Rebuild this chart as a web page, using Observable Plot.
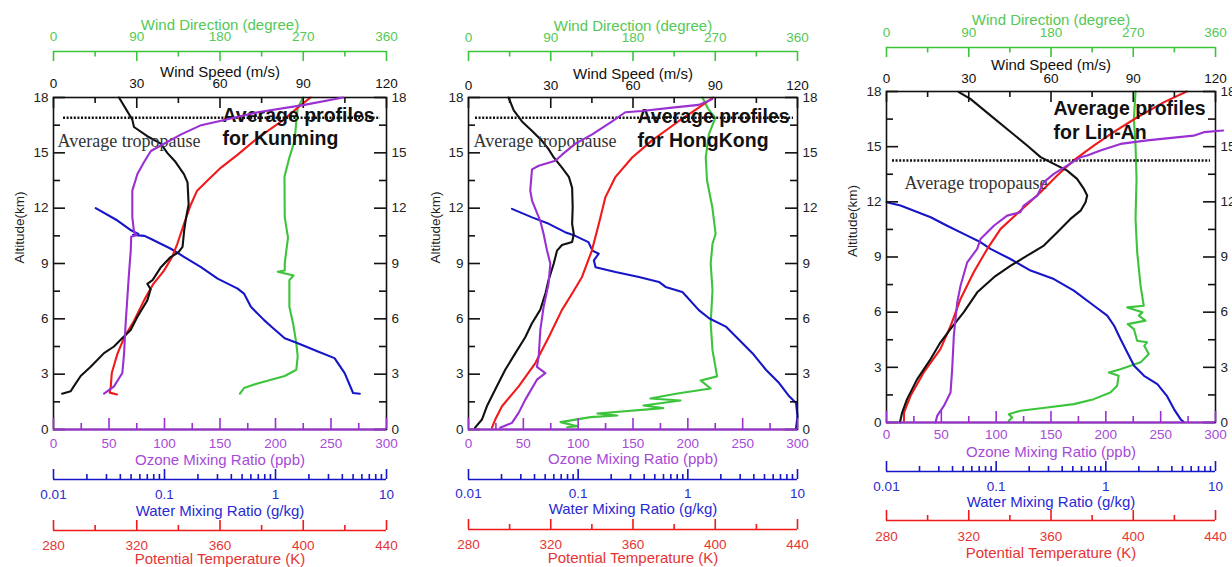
<!DOCTYPE html>
<html><head><meta charset="utf-8">
<script src="https://cdn.jsdelivr.net/npm/d3@7"></script>
<script src="https://cdn.jsdelivr.net/npm/@observablehq/plot@0.6"></script>
<style>
html,body{margin:0;padding:0;background:#fff;}
#root{position:relative;width:1232px;height:567px;overflow:hidden;background:#fff;}
</style>
</head><body><div id="root"></div>
<script>
// ---------------- DATA (altitude km, value) ----------------
const stations = ["Kunming", "HongKong", "Lin-An"];
const tropopause = [16.9, 16.9, 14.25];

// Kunming
const windSpeedKM = [[18,23.6],[16.8,28.4],[16.4,29],[15.9,33.8],[15.5,38.7],[15.0,41],[14.5,44],[13.85,47],[13.4,48.3],[12.2,48.7],[11.5,47.8],[10.8,47.1],[9.9,46.5],[9.6,45],[9.35,42.2],[8.8,38.7],[8.1,35.7],[7.9,33.8],[7.6,35],[7.0,33.8],[6.1,30.2],[5.4,27.8],[4.86,24.2],[4.5,21.8],[4.14,18.2],[3.4,13.4],[2.9,9.8],[2.34,7.3],[2.07,6.2],[1.94,3.1]];
const windDirKM = [[18,270],[17.45,264],[16.7,262.5],[15.65,260.6],[14.75,255],[13.7,249.7],[11.5,250],[10.4,253.5],[9.7,251.7],[9.0,250],[8.62,250],[8.55,242.5],[8.35,259.5],[8.1,255],[6.65,255],[5.75,259],[4.68,262.5],[3.96,264],[3.24,262.5],[2.9,250],[2.5,220.6],[2.25,206],[1.94,201.6]];
const ozoneKM = [[18,261],[17.6,226],[17.2,184],[16.7,148],[16.5,133],[16.0,115],[15.4,96.7],[15.1,87.7],[14.5,81.6],[13.85,75.6],[12.95,71],[11.5,71],[10.7,72.6],[10.55,75],[10.45,70],[9.7,69.6],[8.45,68],[7.2,66.6],[5.75,65],[4.14,63.6],[3.06,62],[2.34,54.5],[1.94,45.5]];
const waterKM = [[12.0,0.024],[11.33,0.0377],[10.8,0.05],[10.6,0.058],[10.55,0.052],[10.5,0.066],[10.34,0.075],[9.8,0.114],[9.35,0.151],[8.8,0.213],[8.18,0.301],[7.64,0.456],[7.37,0.52],[6.65,0.60],[5.93,0.79],[5.57,0.92],[4.95,1.21],[4.68,1.59],[4.23,2.41],[3.87,3.40],[3.06,4.2],[1.98,5.0],[1.94,5.75]];
const thetaKM = [[18,403.5],[17.6,399],[16.7,389.5],[15.8,378],[14.9,368.5],[14.2,360.5],[13.5,354],[12.95,349],[12.2,346],[11.15,342.7],[10.07,339.5],[9.35,337],[8.6,333],[7.9,328],[7.0,323.5],[5.9,318.7],[5.0,314],[4.1,310.7],[3.06,308],[2.3,307.5],[2.0,307],[1.9,310.5]];

// HongKong
const windSpeedHK = [[18,14.6],[17.3,16.5],[16.7,19.5],[16.2,23.1],[15.65,26.8],[15.2,29.2],[14.75,31.1],[14.2,34.1],[13.7,36.6],[13.1,37.8],[12.05,38],[11.15,37.8],[10.6,38.4],[10.16,37.8],[10.0,34.1],[9.7,32.3],[9.0,31.1],[8.1,29.2],[7.4,28.1],[6.5,26.2],[5.75,23.1],[5.0,20.7],[4.14,17.1],[3.24,13.4],[2.16,9.7],[1.26,6.7],[0.54,4.9],[0.1,2.4]];
const windDirHK = [[18,256],[17.4,262],[16.9,270],[16.7,268.6],[16.0,263],[14.75,259.6],[13.5,261],[12.05,266.8],[10.6,270.4],[10.07,267],[9.0,265],[7.55,267],[5.75,265],[4.3,267],[2.88,272],[2.66,254],[2.22,265],[1.95,228.6],[1.68,199],[1.57,232],[1.30,191.5],[1.16,213],[0.87,141],[0.76,163],[0.67,133.6],[0.40,100.7],[0.18,119],[0.12,108]];
const ozoneHK = [[17.9,222],[17.6,210],[17.45,185.8],[17.27,158],[17.2,143],[16.7,131],[16.0,112.8],[15.5,97.5],[14.9,85.3],[14.57,79.2],[14.3,64],[14.1,57.9],[12.95,56.3],[12.4,58],[11.3,65.5],[10.6,68.5],[9.7,71.6],[9.0,74.6],[7.9,73],[6.65,68.5],[5.4,65.5],[3.96,64],[3.4,62.4],[3.06,70.1],[2.7,62.4],[1.62,51.8],[0.9,45.7],[0.36,39.6],[0.09,28.9]];
const waterHK = [[11.96,0.0249],[11.5,0.038],[11.15,0.054],[10.7,0.076],[10.5,0.094],[10.16,0.124],[9.7,0.135],[9.53,0.154],[9.17,0.139],[8.8,0.144],[8.54,0.219],[8.27,0.358],[8.0,0.546],[7.73,0.627],[7.46,0.89],[7.28,0.95],[6.47,1.26],[6.03,1.56],[5.58,2.22],[4.86,2.93],[4.14,3.88],[3.24,5.15],[2.52,6.8],[1.8,8.4],[1.44,9.7],[0.72,10],[0.09,9.7]];
const thetaHK = [[18,399],[17.45,392],[16.7,382],[15.65,369],[14.75,359.6],[13.7,351.5],[12.6,346.6],[11.15,343.4],[9.7,340],[8.27,335.2],[7.37,330.4],[6.47,325.4],[5.0,319],[3.6,312.5],[2.34,304.4],[1.26,296.3],[0.54,293],[0.1,291.4]];

// Lin-An
const windSpeedLA = [[17.97,26.4],[17.6,30.6],[16.7,37.9],[15.8,45.3],[15.06,51.3],[14.43,56.2],[14.16,59.8],[13.7,65.9],[13.25,69.5],[12.7,72],[12.34,73.2],[11.98,72.6],[11.52,70.8],[11.07,67.1],[10.34,62.3],[9.62,57.4],[9.07,51.3],[8.53,45.3],[7.9,39.2],[7.08,33.1],[6.0,28.2],[5.08,23.3],[4.36,19.7],[3.45,16.1],[2.36,11.2],[1.27,7.5],[0.54,5.7],[0,4.9]];
const windDirLA = [[18,272.5],[16.5,270.7],[15.06,272.5],[13.25,273.6],[11.07,272.5],[9.26,274.3],[7.44,278],[6.35,281.5],[6.26,263.4],[5.99,280],[5.81,276],[5.54,283.4],[5.35,264],[5.08,270.7],[4.45,274.3],[4.36,285],[4.17,282],[3.72,287],[3.27,278],[3.09,267],[2.9,256],[2.72,243.3],[2.54,254],[2.0,252.4],[1.63,245],[1.27,226.8],[1.0,205],[0.82,175.8],[0.64,146.6],[0.45,133.8],[0.27,137.5],[0.09,133.8]];
const ozoneLA = [[15.88,307],[15.79,289.4],[15.6,280],[15.34,237.7],[15.15,213.4],[14.79,195],[14.52,183],[14.43,177],[13.97,164.7],[13.52,152.6],[13.07,143.5],[12.34,137.5],[11.8,125.2],[11.43,122],[11.25,110],[10.7,97.9],[9.98,85.7],[9.44,82.7],[8.71,73.6],[7.44,67.5],[6.53,64.5],[4.72,61.4],[2.9,59.9],[1.63,58.4],[0.9,52.3],[0.36,46.2],[0,44.7]];
const waterLA = [[11.98,0.01],[11.8,0.0134],[11.52,0.0178],[11.16,0.0253],[10.7,0.0357],[10.16,0.0545],[9.8,0.0723],[9.44,0.0888],[8.89,0.135],[8.26,0.206],[7.8,0.336],[7.17,0.511],[6.35,0.78],[5.81,1.03],[5.26,1.19],[4.54,1.36],[3.81,1.57],[3.09,1.81],[2.54,2.23],[2.09,2.95],[1.45,3.6],[0.73,4.18],[0.18,4.8],[0.04,5.1]];
const thetaLA = [[18,426],[17.42,415],[16.6,402],[15.8,390.6],[15.06,380.8],[14.25,371],[13.43,363],[12.52,354.9],[11.52,345.1],[10.53,335.5],[9.44,329],[8.17,322.4],[6.72,316],[5.26,311.2],[3.99,306.2],[2.72,298.1],[1.45,291.7],[0.54,288.5],[0.1,288.5]];

// ---------------- TICKS ----------------
const altitudeTicks = [0,3,6,9,12,15,18];
const altitudeMinor = [1.5,4.5,7.5,10.5,13.5,16.5];
const speedTicks = [0,30,60,90,120];
const speedMinor = [15,45,75,105];
const dirTicks = [0,90,180,270,360];
const dirMinor = [45,135,225,315];
const ozoneTicks = [0,50,100,150,200,250,300];
const ozoneMinor = [25,75,125,175,225,275];
const waterTicks = [0.01,0.1,1,10];
const waterMinor = [0.02,0.03,0.04,0.05,0.06,0.07,0.08,0.09,0.2,0.3,0.4,0.5,0.6,0.7,0.8,0.9,2,3,4,5,6,7,8,9];
const thetaTicks = [280,320,360,400,440];
const thetaMinor = [300,340,380,420];

// ---------------- STYLE / LAYOUT ----------------
const C = {speed:"#111111", dir:"#3cc43c", ozone:"#9a30d2", water:"#1616c8", theta:"#f01a1a"};
const T = {dir:"#55c855", ozone:"#a64ad8", water:"#2a2ad2", theta:"#e53434"};
const FONT = "'Liberation Sans', Arial, sans-serif";
const layouts = [
  {L:53, R:386, T:97, B:429, dirLine:51, dirLab:36, dirTitle:25, spdLab:83, spdTitle:72, ozLab:443, ozTitle:460, wLine:479, wLab:494, wTitle:511, tLine:530, tLab:545, tTitle:559, altDx:-34, tropo:[10,6], tropoText:[4,44], prof:[169,18,41]},
  {L:468, R:797, T:97, B:429, dirLine:51, dirLab:37, dirTitle:26, spdLab:85, spdTitle:74, ozLab:443, ozTitle:459, wLine:479, wLab:493, wTitle:509, tLine:529, tLab:544, tTitle:558, altDx:-33, tropo:[7,4], tropoText:[5,44], prof:[169,19,43]},
  {L:886, R:1215, T:91, B:422, dirLine:47, dirLab:32, dirTitle:20, spdLab:78, spdTitle:65, ozLab:434, ozTitle:452, wLine:471, wLab:486, wTitle:502, tLine:520, tLab:536, tTitle:553, altDx:-34, tropo:[6,5], tropoText:[18,92], prof:[167,17,41]}
];
const series = [
  {speed:windSpeedKM, dir:windDirKM, ozone:ozoneKM, water:waterKM, theta:thetaKM},
  {speed:windSpeedHK, dir:windDirHK, ozone:ozoneHK, water:waterHK, theta:thetaHK},
  {speed:windSpeedLA, dir:windDirLA, ozone:ozoneLA, water:waterLA, theta:thetaLA}
];

const root = document.getElementById("root");
const SVG_STYLE = `position:absolute;left:0;top:0;background:transparent;overflow:visible;max-width:none;font-family:${FONT};font-size:13px;`;
function add(opts) {
  const svg = Plot.plot(Object.assign({width:1232, height:567, style:SVG_STYLE}, opts));
  root.appendChild(svg);
}
const fmt = d => String(d);

stations.forEach((name, i) => {
  const lay = layouts[i], s = series[i];
  const fw = lay.R - lay.L, fh = lay.B - lay.T;
  const frameM = {marginLeft: lay.L, marginRight: 1232 - lay.R, marginTop: lay.T, marginBottom: 567 - lay.B};
  const yAlt = {domain:[0,18]};
  const lineOf = (data, color) => Plot.line(data, {x: d => d[1], y: d => d[0], stroke: color, strokeWidth: 2.1, strokeLinejoin:"round"});
  const TXT = {lineAnchor:"middle"};

  // wind direction (green) line
  add({...frameM, x:{domain:[0,360], axis:null}, y:{...yAlt, axis:null}, marks:[lineOf(s.dir, C.dir)]});
  // water vapour (blue, log) line
  add({...frameM, x:{type:"log", domain:[0.01,10], axis:null}, y:{...yAlt, axis:null}, marks:[lineOf(s.water, C.water)]});
  // potential temperature (red) line
  add({...frameM, x:{domain:[280,440], axis:null}, y:{...yAlt, axis:null}, marks:[lineOf(s.theta, C.theta)]});

  // main: frame, altitude axes, wind speed (black)
  add({...frameM, x:{domain:[0,120]}, y:{...yAlt}, marks:[
    Plot.frame({stroke:"#111", strokeWidth:1.6}),
    Plot.tickY(altitudeTicks, {y:d=>d, insetRight: fw-12, stroke:"#111", strokeWidth:1.6}),
    Plot.tickY(altitudeMinor, {y:d=>d, insetRight: fw-7, stroke:"#111", strokeWidth:1.6}),
    Plot.tickY(altitudeTicks, {y:d=>d, insetLeft: fw-12, stroke:"#111", strokeWidth:1.6}),
    Plot.tickY(altitudeMinor, {y:d=>d, insetLeft: fw-7, stroke:"#111", strokeWidth:1.6}),
    Plot.tickX(speedTicks, {x:d=>d, insetBottom: fh-11, stroke:"#111", strokeWidth:1.6}),
    Plot.tickX(speedMinor, {x:d=>d, insetBottom: fh-6, stroke:"#111", strokeWidth:1.6}),
    Plot.axisY({anchor:"left", ticks: altitudeTicks, tickSize:0, tickPadding:5, label:null, tickFormat: fmt, fontSize:13.5, color:"#222"}),
    Plot.axisY({anchor:"right", ticks: altitudeTicks, tickSize:0, tickPadding:5, label:null, tickFormat: fmt, fontSize:13.5, color:"#222"}),
    Plot.axisX({anchor:"top", ticks: speedTicks, tickSize:0, tickPadding: lay.T - lay.spdLab - 4, label:null, tickFormat: fmt, fontSize:13.5, color:"#111"}),
    Plot.ruleY([tropopause[i]], {insetLeft: lay.tropo[0], insetRight: lay.tropo[1], stroke:"#111", strokeWidth:2.5, strokeDasharray:"2,1.6"}),
    lineOf(s.speed, C.speed),
    Plot.text(["Average tropopause"], {...TXT, frameAnchor:"top-left", dx: lay.tropoText[0], dy: lay.tropoText[1], textAnchor:"start", fontFamily:"'Liberation Serif', 'Times New Roman', serif", fontSize:18, fill:"#333"}),
    Plot.text(["Average profiles"], {...TXT, frameAnchor:"top-left", dx: lay.prof[0], dy: lay.prof[1], textAnchor:"start", fontWeight:"bold", fontSize:19.5, fill:"#111"}),
    Plot.text([`for ${name}`], {...TXT, frameAnchor:"top-left", dx: lay.prof[0], dy: lay.prof[2], textAnchor:"start", fontWeight:"bold", fontSize:19.5, fill:"#111"}),
    Plot.text(["Altitude(km)"], {...TXT, frameAnchor:"left", dx: lay.altDx, rotate:-90, fontSize:13.5, fill:"#222"}),
    Plot.text(["Wind Direction (degree)"], {...TXT, frameAnchor:"top", dy: lay.dirTitle - lay.T, fontSize:15, fill:T.dir}),
    Plot.text(["Wind Speed (m/s)"], {...TXT, frameAnchor:"top", dy: lay.spdTitle - lay.T, fontSize:15, fill:"#111"}),
    Plot.text(["Ozone Mixing Ratio (ppb)"], {...TXT, frameAnchor:"bottom", dy: lay.ozTitle - lay.B, fontSize:15, fill:T.ozone}),
    Plot.text(["Water Mixing Ratio (g/kg)"], {...TXT, frameAnchor:"bottom", dy: lay.wTitle - lay.B, fontSize:15, fill:T.water}),
    Plot.text(["Potential Temperature (K)"], {...TXT, frameAnchor:"bottom", dy: lay.tTitle - lay.B, fontSize:15, fill:T.theta})
  ]});

  // ozone (purple) line + bottom axis (frame bottom)
  add({...frameM, x:{domain:[0,300]}, y:{...yAlt, axis:null}, marks:[
    Plot.ruleY([0], {stroke:C.ozone, strokeWidth:2}),
    Plot.tickX(ozoneTicks, {x:d=>d, insetTop: fh-11, stroke:C.ozone, strokeWidth:1.6}),
    Plot.tickX(ozoneMinor, {x:d=>d, insetTop: fh-6, stroke:C.ozone, strokeWidth:1.6}),
    Plot.axisX({anchor:"bottom", ticks: ozoneTicks, tickSize:0, tickPadding: lay.ozLab - lay.B - 5, label:null, tickFormat: fmt, fontSize:13.5, color:T.ozone}),
    lineOf(s.ozone, C.ozone)
  ]});

  // wind direction axis strip (above frame, ticks hanging down)
  add({marginLeft: lay.L, marginRight: 1232 - lay.R, marginTop: lay.dirLine, marginBottom: 567 - lay.dirLine - 10,
    x:{domain:[0,360]}, y:{domain:[0,1], axis:null}, marks:[
    Plot.ruleY([1], {stroke:C.dir, strokeWidth:1.6}),
    Plot.ruleX(dirTicks, {x:d=>d, y1:0, y2:1, stroke:C.dir, strokeWidth:1.6}),
    Plot.ruleX(dirMinor, {x:d=>d, y1:0.45, y2:1, stroke:C.dir, strokeWidth:1.6}),
    Plot.axisX({anchor:"top", ticks: dirTicks, tickSize:0, tickPadding: lay.dirLine - lay.dirLab - 4, label:null, tickFormat: fmt, fontSize:13.5, color:T.dir})
  ]});

  // water axis strip (log)
  add({marginLeft: lay.L, marginRight: 1232 - lay.R, marginTop: lay.wLine - 10, marginBottom: 567 - lay.wLine,
    x:{type:"log", domain:[0.01,10]}, y:{domain:[0,1], axis:null}, marks:[
    Plot.ruleY([0], {stroke:C.water, strokeWidth:1.6}),
    Plot.ruleX(waterTicks, {x:d=>d, y1:0, y2:1, stroke:C.water, strokeWidth:1.6}),
    Plot.ruleX(waterMinor, {x:d=>d, y1:0, y2:0.5, stroke:C.water, strokeWidth:1.6}),
    Plot.axisX({anchor:"bottom", ticks: waterTicks, tickSize:0, tickPadding: lay.wLab - lay.wLine - 5, label:null, tickFormat: fmt, fontSize:13.5, color:T.water})
  ]});

  // potential temperature axis strip
  add({marginLeft: lay.L, marginRight: 1232 - lay.R, marginTop: lay.tLine - 10, marginBottom: 567 - lay.tLine,
    x:{domain:[280,440]}, y:{domain:[0,1], axis:null}, marks:[
    Plot.ruleY([0], {stroke:C.theta, strokeWidth:1.6}),
    Plot.ruleX(thetaTicks, {x:d=>d, y1:0, y2:1, stroke:C.theta, strokeWidth:1.6}),
    Plot.ruleX(thetaMinor, {x:d=>d, y1:0, y2:0.5, stroke:C.theta, strokeWidth:1.6}),
    Plot.axisX({anchor:"bottom", ticks: thetaTicks, tickSize:0, tickPadding: lay.tLab - lay.tLine - 5, label:null, tickFormat: fmt, fontSize:13.5, color:T.theta})
  ]});
});
</script>
</body></html>
